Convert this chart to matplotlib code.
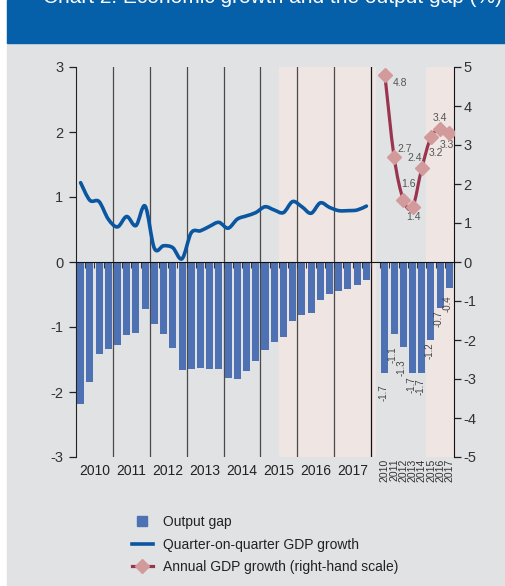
import numpy as np
import matplotlib
matplotlib.use('Agg')
import matplotlib.pyplot as plt
from matplotlib.path import Path
from matplotlib.patches import PathPatch, Rectangle
from matplotlib.lines import Line2D

plt.rcParams['font.family'] = ['Liberation Sans', 'DejaVu Sans']
plt.rcParams['axes.unicode_minus'] = False

# quarterly data 2010Q1..2017Q4 (%)
years = ['2010', '2011', '2012', '2013', '2014', '2015', '2016', '2017']
gap_q = [-2.18, -1.84, -1.42, -1.34, -1.27, -1.13, -1.09, -0.72,
         -0.96, -1.11, -1.32, -1.66, -1.65, -1.63, -1.65, -1.64,
         -1.78, -1.80, -1.67, -1.53, -1.36, -1.23, -1.15, -0.90,
         -0.81, -0.79, -0.59, -0.49, -0.44, -0.41, -0.35, -0.27]
qoq = [1.22, 0.95, 0.93, 0.66, 0.54, 0.70, 0.56, 0.86,
       0.21, 0.25, 0.22, 0.05, 0.45, 0.48, 0.55, 0.61,
       0.52, 0.66, 0.71, 0.76, 0.85, 0.80, 0.76, 0.93,
       0.85, 0.75, 0.91, 0.84, 0.79, 0.79, 0.80, 0.86]
# annual data
gap_a = [-1.7, -1.1, -1.3, -1.7, -1.7, -1.2, -0.7, -0.4]
gdp_a = [4.8, 2.7, 1.6, 1.4, 2.4, 3.2, 3.4, 3.3]

# label placement (pixels)
gap_drop = [12, 13, 12.5, 4, 5.5, 2.7, 2.6, 7.5]
gdp_off = [(15, -8), (11, 8), (5, 16), (1, -10), (-7, 10), (5, -16), (0, 11), (-3, -12)]

BG = '#e1e2e4'
HEADER = '#0560a9'
SHADE = '#efe5e2'
BAR = '#4e71b3'
BLUE = '#0a56a0'
RED = '#9a3550'
PINK = '#d39a9c'


def smooth_path(x, y):
    # Catmull-Rom style curve through the points, as cubic beziers
    n = len(x)
    verts = [(x[0], y[0])]
    codes = [Path.MOVETO]
    for i in range(n - 1):
        a = max(i - 1, 0)
        d = min(i + 2, n - 1)
        c1 = (x[i] + (x[i + 1] - x[a]) / 6, y[i] + (y[i + 1] - y[a]) / 6)
        c2 = (x[i + 1] - (x[d] - x[i]) / 6, y[i + 1] - (y[d] - y[i]) / 6)
        verts += [c1, c2, (x[i + 1], y[i + 1])]
        codes += [Path.CURVE4] * 3
    return Path(verts, codes)


W, H = 506, 586
fig = plt.figure(figsize=(W / 100, H / 100), dpi=100, facecolor='white')
fig.add_artist(Rectangle((7 / W, 0), 1, 1, transform=fig.transFigure,
                         color=BG, zorder=-10))
fig.add_artist(Rectangle((7 / W, 1 - 43 / H), 1, 43 / H, transform=fig.transFigure,
                         color=HEADER, zorder=-9))
fig.text(502 / W, 1 - 3 / H, 'Chart 2: Economic growth and the output gap (%)',
         color='white', fontsize=15, ha='right', va='baseline')

ax = fig.add_axes([76 / W, 1 - 457 / H, 378 / W, 390 / H])
ax.patch.set_visible(False)
xq = np.arange(len(gap_q))
xa = np.arange(len(gap_q) + 1, len(gap_q) + 1 + len(gap_a))
ax.set_xlim(-0.5, xa[-1] + 0.5)
ax.set_ylim(-3, 3)

ax.axvspan(21.5, 32.0, color=SHADE, lw=0, zorder=0)
ax.axvspan(37.5, 40.5, color=SHADE, lw=0, zorder=0)
for b in np.arange(3.5, 32, 4):
    ax.axvline(b, color='#111111' if b > 31 else '#4a4a4a', lw=0.9, zorder=1)

ax.bar(xq, gap_q, width=0.76, color=BAR, zorder=2)
ax.bar(xa, gap_a, width=0.76, color=BAR, zorder=2)

ax.add_patch(PathPatch(smooth_path(xq, qoq), fill=False, ec=BLUE, lw=2.6,
                       capstyle='round', joinstyle='round', zorder=4))

for s in ['top', 'right']:
    ax.spines[s].set_visible(False)
ax.spines['bottom'].set_position(('data', 0))
ax.spines['bottom'].set_color('#111111')
ax.spines['left'].set_color('#222222')
ax.set_xticks(np.arange(-0.5, xa[-1] + 1, 1))
ax.set_xticklabels([])
ax.tick_params(axis='x', direction='out', length=4, width=0.8, color='#333333')
ax.set_yticks(range(-3, 4))
ax.tick_params(axis='y', direction='out', length=5, width=0.9, color='#222222',
               labelsize=10.5, labelcolor='#333333', pad=4)

xt = ax.get_xaxis_transform()
for i, yr in enumerate(years):
    ax.annotate(yr, xy=(4 * i + 1.5, 0), xycoords=xt, xytext=(0, -5),
                textcoords='offset points', ha='center', va='top',
                fontsize=10, color='#222222')
    ax.annotate(yr, xy=(xa[i], 0), xycoords=xt, xytext=(0, -1),
                textcoords='offset points', ha='center', va='top',
                rotation=90, fontsize=7.5, color='#333333')
    ax.annotate(f'{gap_a[i]:.1f}', xy=(xa[i], gap_a[i]),
                xytext=(-1, -gap_drop[i] * 0.72), textcoords='offset points',
                ha='center', va='top', rotation=90, fontsize=7, color='#444444')

ax2 = ax.twinx()
ax2.patch.set_visible(False)
ax2.set_ylim(-5, 5)
ax2.set_yticks(range(-5, 6))
for s in ['top', 'left', 'bottom']:
    ax2.spines[s].set_visible(False)
ax2.spines['right'].set_color('#111111')
ax2.tick_params(axis='y', direction='out', length=5, width=0.9, color='#222222',
                labelsize=10.5, labelcolor='#333333', pad=2)

ax2.add_patch(PathPatch(smooth_path(xa, gdp_a), fill=False, ec=RED, lw=2.3,
                        capstyle='round', joinstyle='round', zorder=4))
ax2.plot(xa, gdp_a, ls='none', marker='D', ms=7.5, mfc=PINK, mec=PINK, zorder=5)
for i, v in enumerate(gdp_a):
    dx, dy = gdp_off[i]
    ax2.annotate(f'{v:.1f}', xy=(xa[i], v), xytext=(dx * 0.72, dy * 0.72),
                 textcoords='offset points', ha='center', va='center',
                 fontsize=7.5, color='#555555')

handles = [
    Line2D([], [], ls='none', marker='s', ms=7, mfc=BAR, mec=BAR),
    Line2D([], [], color=BLUE, lw=2.6),
    Line2D([], [], color=RED, lw=2.3, marker='D', ms=7.5, mfc=PINK, mec=PINK),
]
labels = ['Output gap', 'Quarter-on-quarter GDP growth',
          'Annual GDP growth (right-hand scale)']
fig.legend(handles, labels, loc='upper left', bbox_to_anchor=(132 / W, 1 - 515 / H),
           frameon=False, fontsize=10, handlelength=1.5, handletextpad=0.7,
           labelspacing=0.62, borderpad=0, borderaxespad=0, labelcolor='#222222')

fig.savefig('out.png', dpi=100, facecolor=fig.get_facecolor())
